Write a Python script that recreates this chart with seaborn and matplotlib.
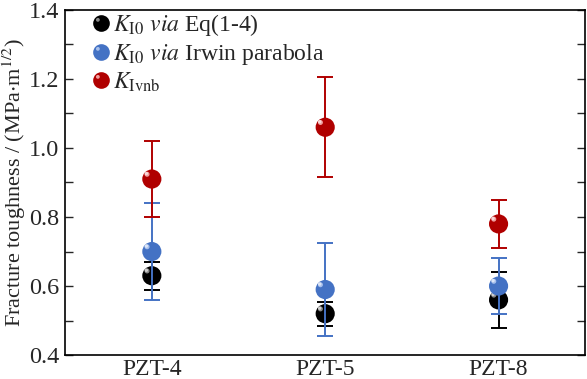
import numpy as np
import pandas as pd
import matplotlib
matplotlib.use("Agg")
import matplotlib.pyplot as plt
from matplotlib.path import Path
from matplotlib.lines import Line2D
import seaborn as sns

# data
samples = ["PZT-4", "PZT-5", "PZT-8"]
k_eq = [0.63, 0.52, 0.56]
k_eq_err = [0.04, 0.035, 0.08]
k_irwin = [0.70, 0.59, 0.60]
k_irwin_err = [0.14, 0.135, 0.08]
k_vnb = [0.91, 1.06, 0.78]
k_vnb_err = [0.11, 0.145, 0.07]

labels = [r"$K_{\mathrm{I0}}$ $\mathit{via}$ Eq(1-4)",
          r"$K_{\mathrm{I0}}$ $\mathit{via}$ Irwin parabola",
          r"$K_{\mathrm{Ivnb}}$"]
colors = ["#000000", "#4472C4", "#B00000"]
shines = ["#8a8a8a", "#a8c0ec", "#f0a0a0"]

sns.set_style("ticks")
plt.rcParams["font.family"] = "serif"
plt.rcParams["font.serif"] = ["Liberation Serif", "DejaVu Serif"]
plt.rcParams["mathtext.fontset"] = "stix"

df = pd.DataFrame({
    "sample": samples * 3,
    "value": k_eq + k_irwin + k_vnb,
    "err": k_eq_err + k_irwin_err + k_vnb_err,
    "series": [labels[0]] * 3 + [labels[1]] * 3 + [labels[2]] * 3,
})

fig = plt.figure(figsize=(5.87, 3.79), dpi=100)
ax = fig.add_axes([0.111, 0.063, 0.886, 0.911])

# off-centre small circle used as the glossy highlight of each sphere
t = np.linspace(0, 2 * np.pi, 40)
hl_path = Path(np.column_stack([-0.38 + 0.2 * np.cos(t), 0.38 + 0.2 * np.sin(t)]))
hl_path2 = Path(np.column_stack([-0.38 + 0.12 * np.cos(t), 0.38 + 0.12 * np.sin(t)]))

handles = []
for i, (lab, col, sh) in enumerate(zip(labels, colors, shines)):
    sub = df[df["series"] == lab]
    ax.errorbar(sub["sample"], sub["value"], yerr=sub["err"], fmt="none",
                ecolor=col, elinewidth=1.4, capsize=6, capthick=1.4, zorder=2 + 2 * i)
    sns.scatterplot(data=sub, x="sample", y="value", color=col, s=190,
                    edgecolor="none", ax=ax, legend=False, zorder=3 + 2 * i)
    ax.scatter(sub["sample"], sub["value"], marker=hl_path, s=110, color=sh,
               edgecolor="none", zorder=3 + 2 * i)
    ax.scatter(sub["sample"], sub["value"], marker=hl_path2, s=110, color="white",
               alpha=0.6, edgecolor="none", zorder=3 + 2 * i)
    h = (Line2D([], [], ls="none", marker="o", ms=12, color=col, mec="none"),
         Line2D([], [], ls="none", marker=hl_path, ms=8, color=sh, mec="none"))
    handles.append(h)

ax.set_xlim(-0.5, 2.5)
ax.set_ylim(0.4, 1.4)
ax.set_yticks(np.arange(0.4, 1.41, 0.2))
ax.set_yticks(np.arange(0.5, 1.4, 0.2), minor=True)
ax.set_yticklabels([f"{v:.1f}" for v in np.arange(0.4, 1.41, 0.2)])
ax.tick_params(axis="y", which="both", direction="in", length=6, width=1,
               right=True, labelsize=17.5, pad=4)
ax.tick_params(axis="x", length=0, labelsize=17, pad=3)
ax.set_xlabel("")
ax.set_ylabel(r"Fracture toughness / (MPa$\cdot$m$^{1/2}$)", fontsize=16, labelpad=1)
for s in ax.spines.values():
    s.set_linewidth(1.2)
    s.set_color("black")

ax.legend(handles, labels, loc="upper left", frameon=False, fontsize=17,
          handlelength=0.7, handletextpad=0.15, labelspacing=0.15,
          borderaxespad=0.0, bbox_to_anchor=(0.035, 1.02))

fig.savefig("out.png", dpi=100)
